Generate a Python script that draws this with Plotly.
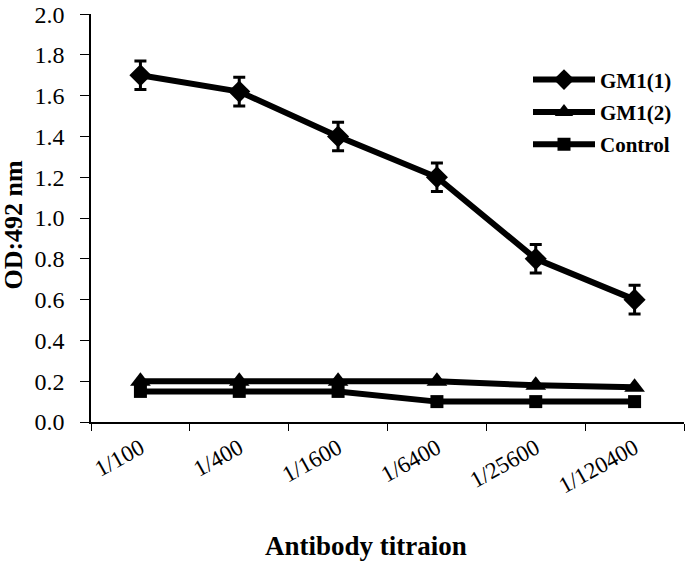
import plotly.graph_objects as go

categories = ["1/100", "1/400", "1/1600", "1/6400", "1/25600", "1/120400"]
gm1_1 = [1.70, 1.62, 1.40, 1.20, 0.80, 0.60]
gm1_1_err = [0.07, 0.07, 0.07, 0.07, 0.07, 0.07]
gm1_2 = [0.20, 0.20, 0.20, 0.20, 0.18, 0.17]
control = [0.15, 0.15, 0.15, 0.10, 0.10, 0.10]
y_ticks = [0.0, 0.2, 0.4, 0.6, 0.8, 1.0, 1.2, 1.4, 1.6, 1.8, 2.0]

FONT = "Liberation Serif, Times New Roman, serif"

fig = go.Figure()
fig.add_trace(go.Scatter(
    x=categories, y=gm1_1, name="GM1(1)", mode="lines+markers",
    line=dict(color="black", width=6),
    marker=dict(symbol="diamond", size=17, color="black"),
    error_y=dict(type="data", array=gm1_1_err, visible=True, color="black",
                 thickness=3, width=6),
    legendgroup="a",
))
fig.add_trace(go.Scatter(
    x=categories, y=gm1_2, name="GM1(2)", mode="lines+markers",
    line=dict(color="black", width=6),
    marker=dict(symbol="triangle-up", size=18, color="black"),
    legendgroup="b",
))
fig.add_trace(go.Scatter(
    x=categories, y=control, name="Control", mode="lines+markers",
    line=dict(color="black", width=6),
    marker=dict(symbol="square", size=13, color="black"),
    legendgroup="c",
))

fig.update_layout(
    width=685, height=565,
    margin=dict(l=91, r=1, t=9, b=143),
    plot_bgcolor="white", paper_bgcolor="white",
    font=dict(family=FONT, color="black"),
    showlegend=True,
    legend=dict(
        x=(528 - 91) / 593, y=1 - (55 - 9) / 413, xanchor="left", yanchor="top",
        font=dict(family=FONT, size=21, color="black", weight="bold"),
        bgcolor="rgba(0,0,0,0)", itemwidth=62, tracegroupgap=2,
    ),
    xaxis=dict(
        type="category", range=[-0.5, 5.5],
        showline=True, linecolor="black", linewidth=1.5,
        ticks="outside", tickson="boundaries", ticklen=7, tickcolor="black",
        tickangle=-29, tickfont=dict(family=FONT, size=23, color="black"),
        ticklabelstandoff=2,
        showgrid=False, zeroline=False,
    ),
    yaxis=dict(
        range=[0, 2.0005], tickvals=y_ticks, ticktext=[f"{v:.1f}" for v in y_ticks],
        showline=True, linecolor="black", linewidth=1.5,
        ticks="outside", ticklen=9, tickcolor="black",
        tickfont=dict(family=FONT, size=24, color="black"),
        ticklabeloverflow="allow", ticklabelstandoff=11,
        showgrid=False, zeroline=False,
    ),
    annotations=[
        dict(text="<b>Antibody titraion</b>", xref="paper", yref="paper",
             x=(366 - 91) / 594, y=-(548 - 422) / 413,
             xanchor="center", yanchor="middle", showarrow=False,
             font=dict(family=FONT, size=27, color="black")),
        dict(text="<b>OD:492 nm</b>", xref="paper", yref="paper",
             x=(13 - 91) / 594, y=1 - (222 - 9) / 413, textangle=-90,
             xanchor="center", yanchor="middle", showarrow=False,
             font=dict(family=FONT, size=26, color="black")),
    ],
)

fig.write_html(
    "out.html",
    config={"displayModeBar": False},
    post_script="document.body.style.margin='0';document.body.style.overflow='hidden';",
)
